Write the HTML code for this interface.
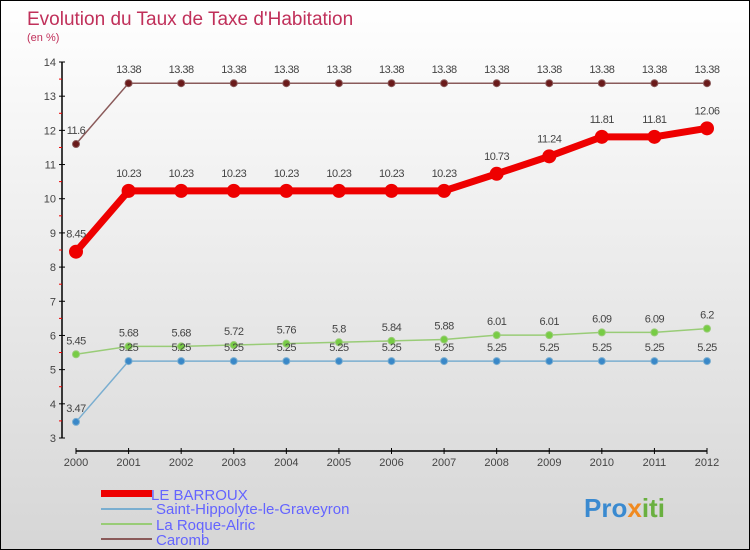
<!DOCTYPE html>
<html><head><meta charset="utf-8"><style>
body{margin:0}
#c{width:750px;height:550px;position:relative;overflow:hidden;background:linear-gradient(#ffffff,#d6d6d6);border:1px solid #000;box-sizing:border-box;font-family:"Liberation Sans",sans-serif}
</style></head><body>
<div id="c">
<svg width="750" height="550" id="svg">
<text x="26" y="24" font-size="19" fill="#c0305a">Evolution du Taux de Taxe d'Habitation</text>
<text x="26" y="40" font-size="11" fill="#c0305a">(en %)</text>
<g id="g"></g>
<text x="150" y="499" font-size="15" fill="#6464ff">LE BARROUX</text>
<text x="155" y="513" font-size="15" fill="#6464ff">Saint-Hippolyte-le-Graveyron</text>
<text x="155" y="529" font-size="15" fill="#6464ff">La Roque-Alric</text>
<text x="155" y="544" font-size="15" fill="#6464ff">Caromb</text>
<rect x="100" y="489" width="51" height="7" fill="#ee0000"/>
<rect x="100" y="507" width="51" height="2" fill="#7aaed0"/>
<rect x="100" y="522" width="51" height="2" fill="#99cc77"/>
<rect x="100" y="537" width="51" height="2" fill="#8a5a5a"/>
<text x="583" y="516" font-size="26" font-weight="bold" fill="#3a8ad0">Pro<tspan fill="#f08a20">x</tspan><tspan fill="#6ab040">iti</tspan></text>
</svg>
</div>
<script>
const years=["2000","2001","2002","2003","2004","2005","2006","2007","2008","2009","2010","2011","2012"];
const barroux=[8.45,10.23,10.23,10.23,10.23,10.23,10.23,10.23,10.73,11.24,11.81,11.81,12.06];
const stHippolyte=[3.47,5.25,5.25,5.25,5.25,5.25,5.25,5.25,5.25,5.25,5.25,5.25,5.25];
const roque=[5.45,5.68,5.68,5.72,5.76,5.8,5.84,5.88,6.01,6.01,6.09,6.09,6.2];
const caromb=[11.6,13.38,13.38,13.38,13.38,13.38,13.38,13.38,13.38,13.38,13.38,13.38,13.38];
const yTicks=[3,4,5,6,7,8,9,10,11,12,13,14];
const NS="http://www.w3.org/2000/svg";
const g=document.getElementById('g');
const X=i=>75+i*(631/12);
const Y=v=>437-(v-3)*(376/11);
function mk(t,a){const e=document.createElementNS(NS,t);for(const k in a)e.setAttribute(k,a[k]);g.appendChild(e);return e;}
let e=mk('line',{x1:61,y1:61,x2:61,y2:437,stroke:'#000','stroke-width':1.5});


e=mk('line',{x1:75,y1:450,x2:706,y2:450,stroke:'#000','stroke-width':1.5});


yTicks.forEach((v,i)=>{
 mk('line',{x1:58,y1:Y(v),x2:64,y2:Y(v),stroke:'#000'});
 if(i<yTicks.length-1) mk('line',{x1:58,y1:Y(v+0.5),x2:61,y2:Y(v+0.5),stroke:'#e00'});
 const t=mk('text',{x:55,y:Y(v)+4,'font-size':11,fill:'#444','text-anchor':'end'});t.textContent=v;
 
 
});
years.forEach((y,i)=>{
 mk('line',{x1:X(i),y1:447,x2:X(i),y2:453,stroke:'#000'});
 const t=mk('text',{x:X(i),y:465,'font-size':11,fill:'#444','text-anchor':'middle'});t.textContent=y;
 
 
});
function series(d,col,dot,w,r,name,lab){
 const p=mk('polyline',{points:d.map((v,i)=>X(i)+','+Y(v)).join(' '),fill:'none',stroke:col,'stroke-width':w});
 
 
 d.forEach((v,i)=>{
  const c=mk('circle',{cx:X(i),cy:Y(v),r:r,fill:dot,stroke:col,'stroke-width':1});
  
  
  const t=mk('text',{x:X(i),y:Y(v)-lab,'font-size':11,fill:'#444','text-anchor':'middle','letter-spacing':'-0.5'});t.textContent=v;
  
  
 });
}
series(caromb,'#8a5a5a','#6a1a1a',1.5,3.5,'caromb',10);
series(roque,'#99cc77','#77cc44',1.5,3.5,'la-roque-alric',10);
series(stHippolyte,'#7aaed0','#3a88c8',1.5,3.5,'saint-hippolyte',10);
series(barroux,'#ee0000','#ee0000',7,6.5,'le-barroux',14);
</script>
</body></html>
